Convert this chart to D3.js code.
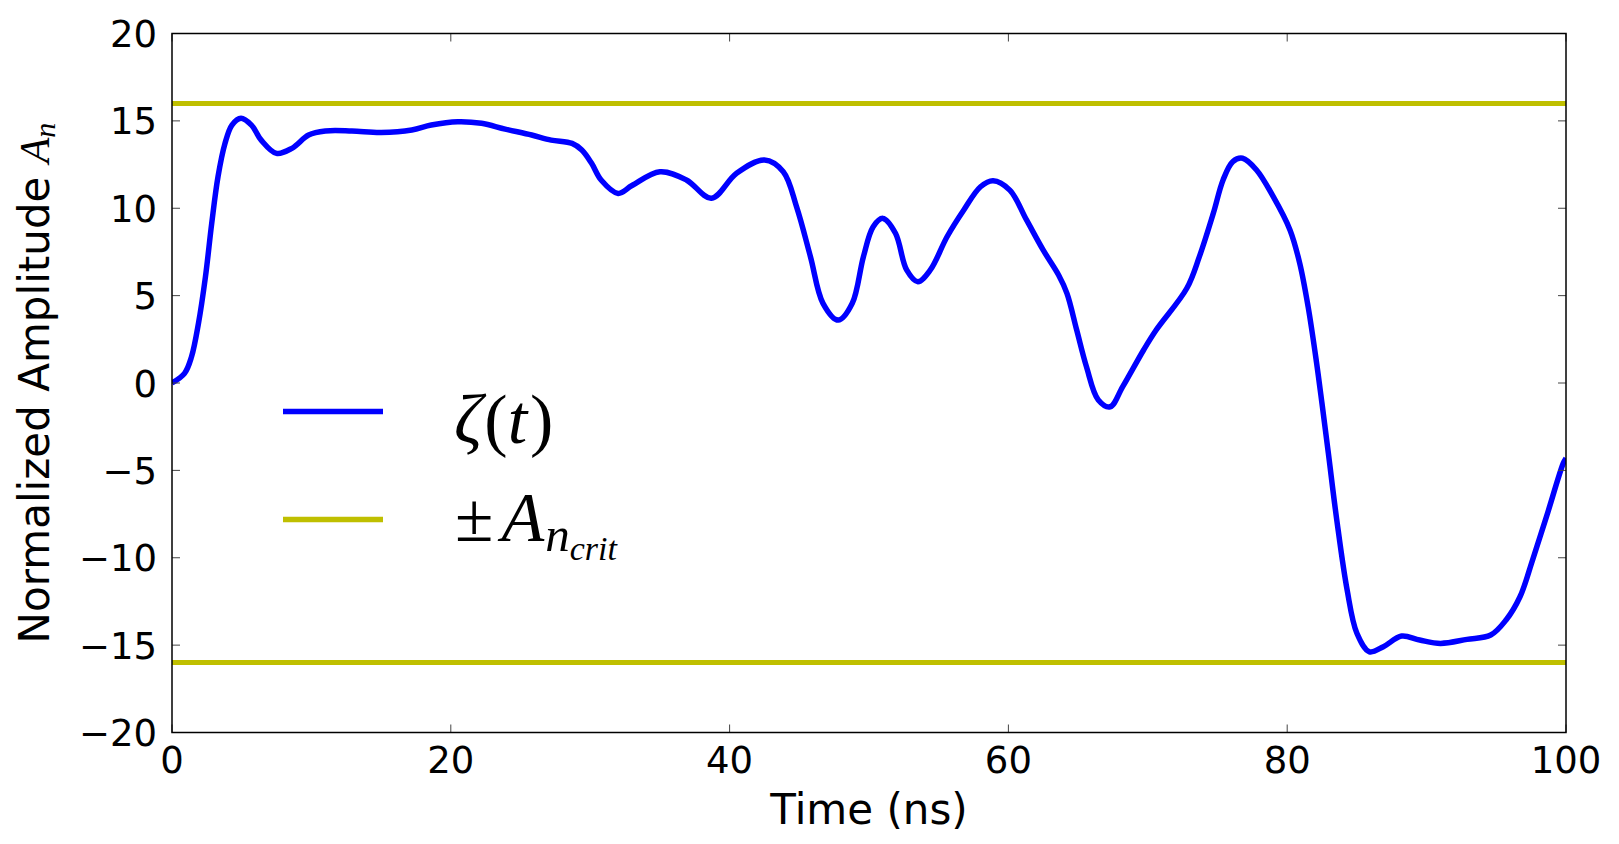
<!DOCTYPE html>
<html>
<head>
<meta charset="utf-8">
<script src="https://cdn.jsdelivr.net/npm/d3@7"></script>
<style>
  html, body { margin: 0; padding: 0; background: #fff; }
  svg { display: block; }
  .tick-label { font-family: "DejaVu Sans", sans-serif; font-size: 37px; fill: #000; }
  .axis-label { font-family: "DejaVu Sans", sans-serif; font-size: 42px; fill: #000; }
  .math { font-family: "Liberation Serif", "DejaVu Serif", serif; font-style: italic; fill: #000; }
  .upright { font-style: normal; }
</style>
</head>
<body>
<div id="chart"></div>
<script>
// time samples (ns) and normalized amplitude
const timeNs = [0, 0.9, 1.4, 1.9, 2.4, 2.85, 3.3, 3.8, 4.3, 4.95,
  5.7, 6.4, 7.5, 8.6, 9.8, 11, 12.9, 15, 17.2, 18.6,
  20.5, 22.2, 23.9, 25.8, 27.2, 28.7, 29.4, 30.1, 30.8, 32.0,
  33.0, 35.0, 36.9, 38.7, 40.5, 42.5, 43.85, 44.8, 45.8, 46.7,
  47.8, 48.8, 49.6, 50.3, 51.0, 51.9, 52.7, 53.5, 54.4, 55.6,
  56.8, 58.0, 58.9, 60.1, 61.3, 62.5, 63.6, 64.2, 64.9, 65.6,
  66.45, 67.3, 68.2, 69.7, 70.6, 72.8, 73.7, 74.7, 75.4, 76.1,
  76.8, 77.8, 79.0, 80.2, 80.9, 81.5, 82.1, 82.5, 82.95, 83.55,
  84.3, 85.0, 85.9, 86.9, 88.2, 89.5, 91.0, 92.9, 94.6, 95.7,
  96.7, 97.6, 98.6, 99.8, 100];

const zeta = [0, 0.55, 1.5, 3.42, 6.08, 9.14, 11.8, 13.7, 14.76, 15.15,
  14.76, 13.9, 13.14, 13.43, 14.19, 14.42, 14.42, 14.34, 14.48, 14.76,
  14.95, 14.86, 14.53, 14.19, 13.9, 13.71, 13.33, 12.57, 11.6, 10.85,
  11.3, 12.09, 11.62, 10.57, 12.0, 12.76, 12.09, 10.09, 7.23, 4.56,
  3.6, 4.56, 7.23, 8.94, 9.42, 8.57, 6.47, 5.8, 6.47, 8.37,
  9.9, 11.23, 11.58, 11.04, 9.33, 7.6, 6.18, 5.13, 3.03, 0.93,
  -0.97, -1.36, -0.21, 1.89, 3.03, 5.42, 7.23, 9.71, 11.62, 12.67,
  12.86, 12.19, 10.66, 8.76, 6.85, 4.37, 1.2, -1.2, -4.0, -7.8,
  -11.85, -14.32, -15.38, -15.09, -14.48, -14.71, -14.9, -14.67, -14.42, -13.56,
  -12.23, -10.13, -7.65, -4.6, -4.3];

const critLevels = [16, -16];
const xTicks = [0, 20, 40, 60, 80, 100];
const yTicks = [-20, -15, -10, -5, 0, 5, 10, 15, 20];

const W = 1619, H = 844;
const margin = { top: 33.5, right: 53, bottom: 111.5, left: 172 };
const width = W - margin.left - margin.right;
const height = H - margin.top - margin.bottom;

const svg = d3.select('#chart').append('svg')
  .attr('width', W)
  .attr('height', H);

const g = svg.append('g')
  .attr('transform', `translate(${margin.left},${margin.top})`);

const x = d3.scaleLinear().domain([0, 100]).range([0, width]);
const y = d3.scaleLinear().domain([-20, 20]).range([height, 0]);

const data = timeNs.map((t, i) => ({ t: t, v: zeta[i] }));

// clip to plot area
svg.append('defs').append('clipPath').attr('id', 'clip')
  .append('rect').attr('width', width).attr('height', height);

const plot = g.append('g').attr('clip-path', 'url(#clip)');

critLevels.forEach(c => {
  plot.append('line')
    .attr('x1', x(0)).attr('x2', x(100))
    .attr('y1', y(c)).attr('y2', y(c))
    .attr('stroke', '#bfbf00')
    .attr('stroke-width', 5);
});

const line = d3.line()
  .x(d => x(d.t))
  .y(d => y(d.v))
  .curve(d3.curveCatmullRom.alpha(0.5));

plot.append('path')
  .datum(data)
  .attr('fill', 'none')
  .attr('stroke', '#0000ff')
  .attr('stroke-width', 5.5)
  .attr('stroke-linejoin', 'round')
  .attr('d', line);

// inward ticks on all four sides
const tickLen = 8;
const ticks = g.append('g').attr('stroke', '#444').attr('stroke-width', 1);
xTicks.forEach(t => {
  ticks.append('line').attr('x1', x(t)).attr('x2', x(t)).attr('y1', height).attr('y2', height - tickLen);
  ticks.append('line').attr('x1', x(t)).attr('x2', x(t)).attr('y1', 0).attr('y2', tickLen);
});
yTicks.forEach(v => {
  ticks.append('line').attr('x1', 0).attr('x2', tickLen).attr('y1', y(v)).attr('y2', y(v));
  ticks.append('line').attr('x1', width).attr('x2', width - tickLen).attr('y1', y(v)).attr('y2', y(v));
});

// frame
g.append('rect')
  .attr('width', width).attr('height', height)
  .attr('fill', 'none')
  .attr('stroke', '#000')
  .attr('stroke-width', 1.5);

const fmt = d3.format('d');

g.selectAll('.xlab').data(xTicks).enter().append('text')
  .attr('class', 'tick-label')
  .attr('x', d => x(d))
  .attr('y', height + 40)
  .attr('text-anchor', 'middle')
  .text(d => fmt(d));

g.selectAll('.ylab').data(yTicks).enter().append('text')
  .attr('class', 'tick-label')
  .attr('x', -15)
  .attr('y', d => y(d) + 13.5)
  .attr('text-anchor', 'end')
  .text(d => fmt(d));

// axis labels
svg.append('text')
  .attr('class', 'axis-label')
  .attr('x', margin.left + width / 2)
  .attr('y', 824)
  .attr('text-anchor', 'middle')
  .text('Time (ns)');

const yl = svg.append('text')
  .attr('class', 'axis-label')
  .attr('transform', `translate(49,${margin.top + height / 2}) rotate(-90)`)
  .attr('text-anchor', 'middle');
yl.append('tspan').text('Normalized Amplitude ');
yl.append('tspan').attr('class', 'math').text('A');
yl.append('tspan').attr('class', 'math').attr('font-size', '30px').attr('dy', 6).text('n');

// legend
const legend = svg.append('g');
const legendItems = [
  { color: '#0000ff', y: 411.5 },
  { color: '#bfbf00', y: 519.5 }
];
legendItems.forEach(it => {
  legend.append('line')
    .attr('x1', 283).attr('x2', 383)
    .attr('y1', it.y).attr('y2', it.y)
    .attr('stroke', it.color)
    .attr('stroke-width', 5.5);
});

const zt = legend.append('text')
  .attr('class', 'math')
  .attr('x', 454)
  .attr('y', 443)
  .attr('font-size', '70px');
zt.append('tspan').text('ζ');
zt.append('tspan').attr('class', 'upright').attr('dx', 2).text('(');
zt.append('tspan').text('t');
zt.append('tspan').attr('class', 'upright').attr('dx', 3).text(')');

const crit = legend.append('text')
  .attr('class', 'math')
  .attr('x', 455)
  .attr('y', 541)
  .attr('font-size', '70px');
crit.append('tspan').attr('class', 'upright').text('±');
crit.append('tspan').attr('dx', 8).text('A');
crit.append('tspan').attr('font-size', '49px').attr('dy', 10).attr('dx', 1).text('n');
crit.append('tspan').attr('font-size', '34px').attr('dy', 9).text('crit');
</script>
</body>
</html>
